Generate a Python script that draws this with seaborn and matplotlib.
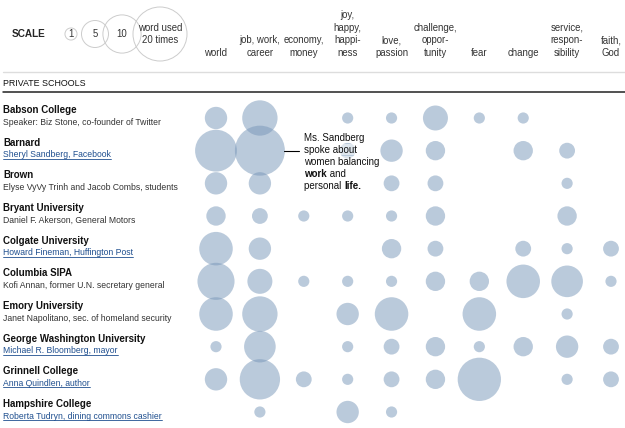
import numpy as np
import pandas as pd
import seaborn as sns
import matplotlib.pyplot as plt
import matplotlib.transforms as mtrans
from matplotlib.lines import Line2D

# --- data ---
schools = ['Babson College', 'Barnard', 'Brown', 'Bryant University', 'Colgate University',
           'Columbia SIPA', 'Emory University', 'George Washington University',
           'Grinnell College', 'Hampshire College']
speakers = ['Speaker: Biz Stone, co-founder of Twitter', 'Sheryl Sandberg, Facebook',
            'Elyse VyVy Trinh and Jacob Combs, students', 'Daniel F. Akerson, General Motors',
            'Howard Fineman, Huffington Post', 'Kofi Annan, former U.N. secretary general',
            'Janet Napolitano, sec. of homeland security', 'Michael R. Bloomberg, mayor',
            'Anna Quindlen, author', 'Roberta Tudryn, dining commons cashier']
linked = [False, True, False, False, True, False, False, True, True, True]
words = ['world', 'job, work,\ncareer', 'economy,\nmoney', 'joy,\nhappy,\nhappi-\nness',
         'love,\npassion', 'challenge,\noppor-\ntunity', 'fear', 'change',
         'service,\nrespon-\nsibility', 'faith,\nGod']
# word counts, one row per school, one column per word group
counts = [
    [4, 10, 0, 1, 1, 5, 1, 1, 0, 0],
    [14, 21, 0, 2, 4, 3, 0, 3, 2, 0],
    [4, 4, 0, 0, 2, 2, 0, 0, 1, 0],
    [3, 2, 1, 1, 1, 3, 0, 0, 3, 0],
    [9, 4, 0, 0, 3, 2, 0, 2, 1, 2],
    [11, 5, 1, 1, 1, 3, 3, 9, 8, 1],
    [9, 10, 0, 4, 9, 0, 9, 0, 1, 0],
    [1, 8, 0, 1, 2, 3, 1, 3, 4, 2],
    [4, 13, 2, 1, 2, 3, 15, 0, 1, 2],
    [0, 1, 0, 4, 1, 0, 0, 0, 0, 0],
]
scale_counts = [1, 5, 10, 20]
scale_labels = ['1', '5', '10', 'word used\n20 times']

df = pd.DataFrame(counts, columns=range(len(words)))
df['row'] = range(len(schools))
df = df.melt(id_vars='row', var_name='col', value_name='count')
df['col'] = df['col'].astype(int)
df = df[df['count'] > 0]

sns.set_style('white')
plt.rcParams['font.family'] = ['Liberation Sans', 'DejaVu Sans']

W, H = 625, 428
fig = plt.figure(figsize=(W / 100, H / 100), dpi=100)
fx = lambda x: x / W
fy = lambda y: 1 - y / H

# bubble grid: columns at x=216..611 px, rows at y=118..412 px
cstep = (611 - 216) / 9
rstep = (412 - 118) / 9
left = 216 - 0.5 * cstep
top = 118 - 0.5 * rstep
ax = fig.add_axes([fx(left), 0, 10 * cstep / W, (H - top) / H])
ax.set_xlim(-0.5, 9.5)
ax.set_ylim(-0.5 + (H - top) / rstep, -0.5)

blue = '#7796b8'
sns.scatterplot(data=df, x='col', y='row', size='count', sizes=(0, 1296), size_norm=(0, 20),
                color=blue, alpha=0.5, linewidth=0, legend=False, ax=ax, clip_on=False)

sns.despine(ax=ax, left=True, bottom=True, top=True, right=True)
ax.set_xlabel('')
ax.set_ylabel('')
ax.set_yticks([])
ax.set_xticks(range(len(words)))
ax.set_xticklabels(words)
ax.tick_params(axis='x', bottom=False, top=False, labelbottom=False, labeltop=True,
               length=0, pad=31.5, labelsize=6.9, labelcolor='#333333')
for lab in ax.get_xticklabels():
    lab.set_linespacing(1.32)

# scale legend
lax = fig.add_axes([0, fy(70), 1, 70 / H])
lax.set_xlim(0, W)
lax.set_ylim(70, 0)
lax.axis('off')
scale_x = [71, 95, 122, 160]
sns.scatterplot(x=scale_x, y=[34] * 4, size=scale_counts, sizes=(0, 1512), size_norm=(0, 20),
                legend=False, ax=lax, clip_on=False)
pts = lax.collections[-1]
pts.set_facecolor('none')
pts.set_edgecolor('#cccccc')
pts.set_linewidth(0.7)
for x, lab in zip(scale_x, scale_labels):
    lax.text(x, 34, lab, ha='center', va='center', fontsize=6.9, color='#333333',
             linespacing=1.3)
fig.text(fx(12), fy(34), 'SCALE', ha='left', va='center', fontsize=7.2, weight='bold')

# header rules
fig.add_artist(Line2D([fx(3), 1], [fy(72), fy(72)], color='#dddddd', lw=1.0))
fig.add_artist(Line2D([fx(3), 1], [fy(92), fy(92)], color='#222222', lw=1.1))
fig.text(fx(3), fy(83), 'PRIVATE SCHOOLS', ha='left', va='center', fontsize=6.4, color='#111111')

# row labels
blend = mtrans.blended_transform_factory(fig.transFigure, ax.transData)
up = mtrans.ScaledTranslation(0, 0.08, fig.dpi_scale_trans)
down = mtrans.ScaledTranslation(0, -0.04, fig.dpi_scale_trans)
link_color = '#1f4f8f'
link_texts = []
for i, (name, spk, lk) in enumerate(zip(schools, speakers, linked)):
    ax.text(fx(3), i, name, transform=blend + up, ha='left', va='center',
            fontsize=7.0, weight='bold', color='#111111')
    t = ax.text(fx(3), i, spk, transform=blend + down, ha='left', va='center',
                fontsize=6.2, color=link_color if lk else '#333333')
    if lk:
        link_texts.append(t)

# annotation for Barnard
ax.add_line(Line2D([fx(284), fx(299)], [1, 1], transform=blend, color='black', lw=0.8))
note = [[('Ms. Sandberg', 'normal')],
        [('spoke about', 'normal')],
        [('women balancing', 'normal')],
        [('work', 'bold'), (' and', 'normal')],
        [('personal ', 'normal'), ('life.', 'bold')]]
for k, parts in enumerate(note):
    off = mtrans.ScaledTranslation(0, -(-0.13 + 0.12 * k), fig.dpi_scale_trans)
    prev = None
    for txt, wt in parts:
        if prev is None:
            box = dict(facecolor='white', edgecolor='none', alpha=0.55, pad=0.5) \
                if len(parts) == 1 else None
            prev = ax.text(fx(304), 1, txt, transform=blend + off, ha='left', va='center',
                           fontsize=7.0, weight=wt, color='#111111', bbox=box)
        else:
            prev = ax.annotate(txt, xy=(1, 0.5), xycoords=prev, ha='left', va='center',
                               fontsize=7.0, weight=wt, color='#111111')

# underline the linked speaker names
fig.canvas.draw()
for t in link_texts:
    bb = t.get_window_extent()
    y = bb.y0 + 0.5
    fig.add_artist(Line2D([bb.x0 / W, bb.x1 / W], [y / H, y / H], color=link_color, lw=0.6))

fig.savefig('out.png', dpi=100)
